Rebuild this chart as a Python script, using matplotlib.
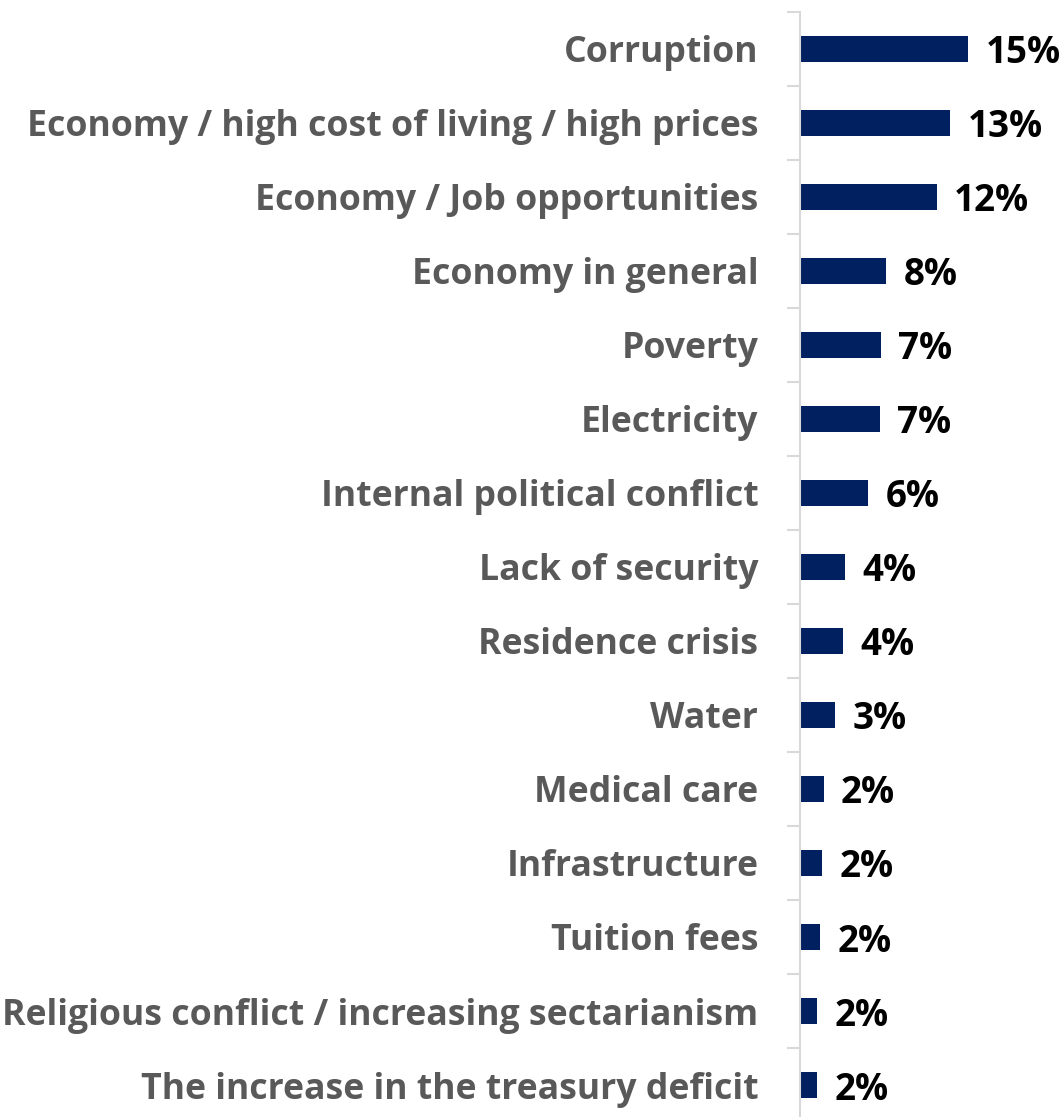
import matplotlib.pyplot as plt
from matplotlib.ticker import FixedLocator

issues = ['Corruption',
          'Economy / high cost of living / high prices',
          'Economy / Job opportunities',
          'Economy in general',
          'Poverty',
          'Electricity',
          'Internal political conflict',
          'Lack of security',
          'Residence crisis',
          'Water',
          'Medical care',
          'Infrastructure',
          'Tuition fees',
          'Religious conflict / increasing sectarianism',
          'The increase in the treasury deficit']
shares = [15.0, 13.4, 12.2, 7.7, 7.2, 7.1, 6.1, 4.0, 3.8, 3.1, 2.1, 2.0, 1.8, 1.55, 1.55]

W, H = 1063, 1117
fig = plt.figure(figsize=(W/100, H/100), dpi=100)
ax = fig.add_axes([800/W, (H-1122)/H, 263/W, 1110/H])

y = list(range(len(issues)))
ax.barh(y, shares, height=0.35, color='#002060')
for yi, v in zip(y, shares):
    ax.text(v + 1.55, yi, f'{v:.0f}%', va='center_baseline', ha='left',
            fontsize=26.5, fontweight='bold', color='black', family='Open Sans')

ax.set_ylim(len(issues) - 0.5, -0.5)
ax.set_xlim(0, 263/11.2)

ax.set_yticks(y)
ax.set_yticklabels(issues, fontsize=25.7, fontweight='bold', color='#595959',
                   family='Open Sans', va='center_baseline')
ax.tick_params(axis='y', which='major', length=0, pad=30)
ax.yaxis.set_minor_locator(FixedLocator([i - 0.5 for i in range(len(issues) + 1)]))
ax.tick_params(axis='y', which='minor', length=9.5, width=1.5, color='#d9d9d9')
ax.set_xticks([])

for s in ['top', 'right', 'bottom']:
    ax.spines[s].set_visible(False)
ax.spines['left'].set_color('#d9d9d9')
ax.spines['left'].set_linewidth(1.5)

fig.savefig('out.png', dpi=100)
